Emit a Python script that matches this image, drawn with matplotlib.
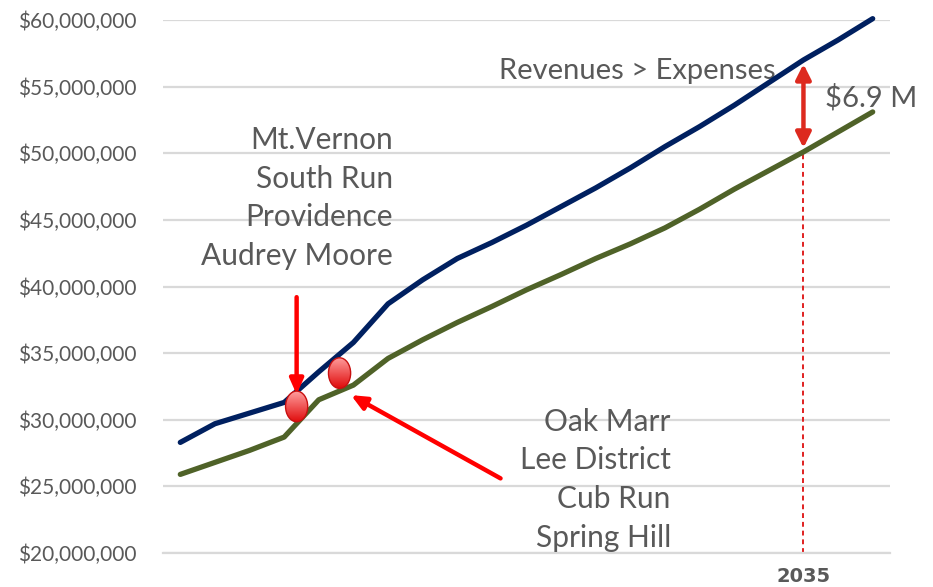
import matplotlib
matplotlib.use("Agg")
import matplotlib.pyplot as plt
import numpy as np
from matplotlib.patches import Ellipse
from matplotlib.ticker import FuncFormatter

# ---- data ----
years = list(range(2017, 2038))
revenues = [28.3, 29.7, 30.5, 31.3, 33.6, 35.8, 38.7, 40.5, 42.1, 43.3, 44.6,
            46.0, 47.4, 48.9, 50.5, 52.0, 53.6, 55.3, 57.0, 58.5, 60.1]
expenses = [25.9, 26.8, 27.7, 28.7, 31.5, 32.6, 34.6, 36.0, 37.3, 38.5, 39.75,
            40.9, 42.1, 43.2, 44.4, 45.8, 47.3, 48.7, 50.1, 51.6, 53.1]
revenues = [v * 1e6 for v in revenues]
expenses = [v * 1e6 for v in expenses]
labeled_year = 2035
y_ticks = [20e6, 25e6, 30e6, 35e6, 40e6, 45e6, 50e6, 55e6, 60e6]
group_a = ["Mt.Vernon", "South Run", "Providence", "Audrey Moore"]
group_b = ["Oak Marr", "Lee District", "Cub Run", "Spring Hill"]
gap_label = "$6.9 M"
headline = "Revenues > Expenses"

# ---- figure ----
W, H = 933, 587
fig = plt.figure(figsize=(W / 100, H / 100), dpi=100)
ax = fig.add_axes([163 / W, 1 - 553 / H, (890 - 163) / W, (553 - 20) / H])

x = np.arange(len(years))
grey = "#595959"
grid = "#D9D9D9"
tfont = "Lato"

ax.set_xlim(-0.5, len(years) - 0.5)
ax.set_ylim(y_ticks[0], y_ticks[-1])
ax.set_yticks(y_ticks)
ax.yaxis.set_major_formatter(FuncFormatter(lambda v, p: "${:,.0f}".format(v)))
for s in ["top", "left", "right"]:
    ax.spines[s].set_visible(False)
ax.spines["bottom"].set_color(grid)
ax.spines["bottom"].set_linewidth(1.6)
ax.grid(axis="y", color=grid, linewidth=1.6)
ax.set_axisbelow(True)
ax.tick_params(axis="y", length=0, pad=19, labelsize=15, labelcolor=grey)
for lbl in ax.get_yticklabels():
    lbl.set_family("Lato")

li = years.index(labeled_year)
ax.set_xticks([li])
ax.set_xticklabels([str(labeled_year)], fontsize=14, fontweight="bold",
                   color=grey, family="DejaVu Sans")
ax.tick_params(axis="x", length=0, pad=10)

ax.plot(x, expenses, color="#4F6228", lw=3.8, solid_capstyle="round",
        solid_joinstyle="round", zorder=3)
ax.plot(x, revenues, color="#002060", lw=3.8, solid_capstyle="round",
        solid_joinstyle="round", zorder=4, clip_on=False)

# dashed vertical at labelled year
ax.vlines(li, y_ticks[0], expenses[li], colors="#E02020", linestyles=(0, (2.5, 2)),
          lw=1.4, zorder=2)
# double arrow showing gap
ax.annotate("", xy=(li, expenses[li] + 0.3e6), xytext=(li, revenues[li] - 0.3e6),
            arrowprops=dict(arrowstyle="<|-|>,head_length=0.9,head_width=0.45",
                            color="#DD2A1F", lw=3.2, shrinkA=0, shrinkB=0),
            zorder=6)
ax.text(li + 0.62, 54.15e6, gap_label,
        fontsize=21, color=grey, family=tfont, va="center", ha="left")
ax.text(13.2, 56.17e6, headline, fontsize=21, color=grey, family=tfont,
        va="center", ha="center")

# group labels
ax.text(6.15, 46.65e6, "\n".join(group_a), fontsize=21.5, color=grey, family=tfont,
        ha="right", va="center", linespacing=1.46)
ax.text(14.17, 25.5e6, "\n".join(group_b), fontsize=21.5, color=grey, family=tfont,
        ha="right", va="center", linespacing=1.46)

# red arrows
ax.annotate("", xy=(3.36, 31.9e6), xytext=(3.36, 39.2e6),
            arrowprops=dict(arrowstyle="-|>,head_length=0.9,head_width=0.4",
                            color="#FF0000", lw=3.2, shrinkA=0, shrinkB=0), zorder=6)
ax.annotate("", xy=(4.93, 31.85e6), xytext=(9.25, 25.6e6),
            arrowprops=dict(arrowstyle="-|>,head_length=0.9,head_width=0.4",
                            color="#FF0000", lw=3.2, shrinkA=0, shrinkB=0), zorder=6)

# red ellipse markers with gradient
def blob(cx, cy):
    w, h = 0.64, 2.3e6
    e = Ellipse((cx, cy), w, h, facecolor="none", edgecolor="#C81010", lw=1.0,
                zorder=8)
    ax.add_patch(e)
    grad = np.linspace(0, 1, 64).reshape(-1, 1)
    top = np.array([1.0, 0.62, 0.62])
    bot = np.array([0.88, 0.05, 0.05])
    img = top[None, None, :] * (1 - grad[:, :, None]) + bot[None, None, :] * grad[:, :, None]
    im = ax.imshow(img, extent=(cx - w / 2, cx + w / 2, cy - h / 2, cy + h / 2),
                   origin="upper", aspect="auto", zorder=7, interpolation="bilinear")
    clip = Ellipse((cx, cy), w, h, transform=ax.transData, facecolor="none",
                   edgecolor="none")
    ax.add_patch(clip)
    im.set_clip_path(clip)

blob(3.36, 31.0e6)
blob(4.6, 33.5e6)

ax.set_xlim(-0.5, len(years) - 0.5)
ax.set_ylim(y_ticks[0], y_ticks[-1])

fig.savefig("out.png", dpi=100)
